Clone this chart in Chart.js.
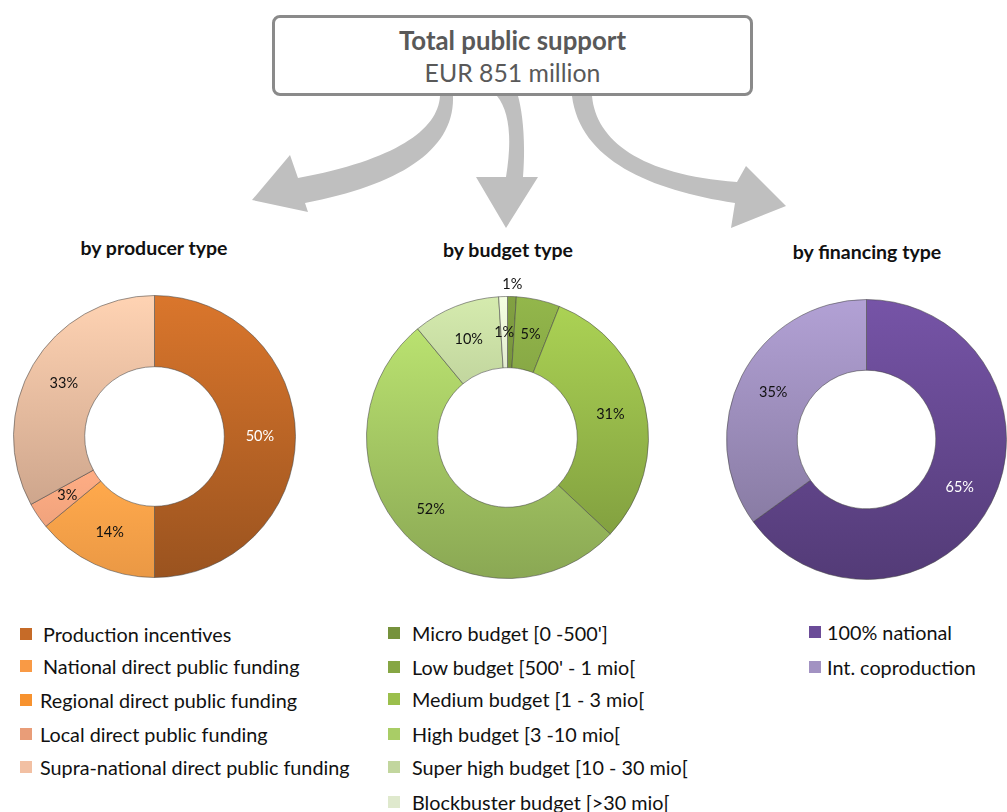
<!DOCTYPE html>
<html>
<head>
<meta charset="utf-8">
<script src="https://cdn.jsdelivr.net/npm/chart.js@4"></script>
<style>
  html, body { margin: 0; padding: 0; background: #fff; overflow: hidden; }
  body { width: 1007px; height: 812px; position: relative; font-family: Lato, "Open Sans", sans-serif; color: #111; }
  .abs { position: absolute; }
  #topbox { left: 272px; top: 15px; width: 481px; height: 81px; box-sizing: border-box;
            border: 3px solid #8a8a8a; border-radius: 8px; text-align: center; color: #595959; }
  #topbox .t1 { position: absolute; left: 0; right: 0; top: 7px; font-weight: bold; font-size: 25.8px; line-height: 30px; }
  #topbox .t2 { position: absolute; left: 0; right: 0; top: 40px; font-size: 24.8px; line-height: 30px; }
  .title { font-weight: bold; font-size: 19.5px; text-align: center; width: 300px; line-height: 24px; }
  .legend-row { position: absolute; font-size: 19.8px; line-height: 24px; white-space: nowrap; }
  .legend-row .sw { position: absolute; width: 12px; height: 12px; }
</style>
</head>
<body>
<svg class="abs" style="left:0;top:0" width="1007" height="812">
  <g fill="#bfbfbf">
    <path d="M 440 96 C 438 130, 395 160, 298 178 L 290 155 L 252 200 L 308 212 L 305 203 C 400 185, 455 150, 453 96 Z"/>
    <path d="M 497 96 C 510 112, 512 140, 506 177 L 476 177 L 506 228 L 538 177 L 523 177 C 526 138, 522 110, 518 96 Z"/>
    <path d="M 592 96 C 596 140, 640 175, 737 182 L 746 166 L 786 206 L 731 228 L 735 203 C 650 190, 580 160, 572 96 Z"/>
  </g>
</svg>
<div id="topbox" class="abs">
  <div class="t1">Total public support</div>
  <div class="t2">EUR 851 million</div>
</div>

<div class="abs title" style="left:4px;top:236px">by producer type</div>
<div class="abs title" style="left:358px;top:238px">by budget type</div>
<div class="abs title" style="left:717px;top:240px">by financing type</div>

<canvas id="c1" class="abs" width="323" height="323" style="left:-7px;top:275px"></canvas>
<canvas id="c2" class="abs" width="323" height="323" style="left:346px;top:276px"></canvas>
<canvas id="c3" class="abs" width="321" height="321" style="left:706px;top:279px"></canvas>

<div id="lg1"></div>
<div id="lg2"></div>
<div id="lg3"></div>

<script>
// Public support split by producer type (%)
const producerLabels = ['Production incentives', 'National direct public funding', 'Regional direct public funding',
                        'Local direct public funding', 'Supra-national direct public funding'];
const producerShares = [50, 14, 0, 3, 33];
const producerColors = ['#c66b28', '#f99a45', '#f7922f', '#e99d78', '#f2c0a3'];

// Public support split by budget type (%)
const budgetLabels = ["Micro budget [0 -500']", "Low budget [500' - 1 mio[", 'Medium budget [1 - 3 mio[',
                      'High budget [3 -10 mio[', 'Super high budget [10 - 30 mio[', 'Blockbuster budget [>30 mio['];
const budgetShares = [1, 5, 31, 52, 10, 1];
const budgetColors = ['#76923c', '#86a644', '#9bbf4c', '#a9cd66', '#c2d69e', '#dfe9cd'];

// Public support split by financing type (%)
const financingLabels = ['100% national', 'Int. coproduction'];
const financingShares = [65, 35];
const financingColors = ['#6b4c98', '#a292c2'];

function scaleColor(hex, f) {
  const n = parseInt(hex.slice(1), 16);
  const c = [(n >> 16) & 255, (n >> 8) & 255, n & 255].map(v => Math.max(0, Math.min(255, Math.round(v * f))));
  return 'rgb(' + c.join(',') + ')';
}

// Each slice is shaded from its own top edge downwards: light at the top,
// reaching the darkest tone one full ring diameter below it.
function shaded(colors, cutoutRatio) {
  return function (ctx) {
    const chart = ctx.chart;
    const area = chart.chartArea;
    const base = colors[ctx.dataIndex];
    if (!area) return base;
    const values = ctx.dataset.data;
    const total = values.reduce((a, b) => a + b, 0);
    const before = values.slice(0, ctx.dataIndex).reduce((a, b) => a + b, 0);
    const a0 = -Math.PI / 2 + 2 * Math.PI * before / total;
    const a1 = a0 + 2 * Math.PI * values[ctx.dataIndex] / total;
    const cy = (area.top + area.bottom) / 2;
    const R = (Math.min(area.width, area.height) - 1) / 2;
    const r = R * cutoutRatio;
    let ymin = Infinity;
    for (let k = 0; k <= 60; k++) {
      const a = a0 + (a1 - a0) * k / 60;
      ymin = Math.min(ymin, cy + Math.sin(a) * R, cy + Math.sin(a) * r);
    }
    const g = chart.ctx.createLinearGradient(0, ymin, 0, ymin + 2 * R);
    g.addColorStop(0, scaleColor(base, 1.1));
    g.addColorStop(1, scaleColor(base, 0.78));
    return g;
  };
}

const sliceLabels = {
  id: 'sliceLabels',
  afterDatasetsDraw(chart, args, opts) {
    const ctx = chart.ctx;
    const ds = chart.data.datasets[0];
    const meta = chart.getDatasetMeta(0);
    ctx.save();
    ctx.font = '14.5px Lato, "Open Sans", sans-serif';
    ctx.textAlign = 'center';
    ctx.textBaseline = 'middle';
    meta.data.forEach((arc, i) => {
      const v = ds.data[i];
      if (!v) return;
      const p = arc.getProps(['x', 'y', 'startAngle', 'endAngle', 'innerRadius', 'outerRadius'], true);
      const mid = (p.startAngle + p.endAngle) / 2;
      const outside = (opts.outside || []).includes(i);
      const r = outside ? p.outerRadius + 12 : (p.innerRadius + p.outerRadius) / 2;
      ctx.fillStyle = (opts.white || []).includes(i) ? '#ffffff' : '#111111';
      ctx.fillText(v + '%', p.x + Math.cos(mid) * r, p.y + Math.sin(mid) * r);
    });
    ctx.restore();
  }
};

const CUTOUT = 0.495;

function donut(id, labels, values, colors, labelOpts) {
  return new Chart(document.getElementById(id), {
    type: 'doughnut',
    data: {
      labels: labels,
      datasets: [{
        data: values,
        backgroundColor: shaded(colors, CUTOUT),
        borderColor: 'rgba(70,70,70,0.55)',
        borderWidth: 1
      }]
    },
    options: {
      responsive: false,
      animation: false,
      cutout: (CUTOUT * 100) + '%',
      layout: { padding: 20 },
      plugins: {
        legend: { display: false },
        tooltip: { enabled: false },
        sliceLabels: labelOpts
      }
    },
    plugins: [sliceLabels]
  });
}

donut('c1', producerLabels, producerShares, producerColors, { white: [0] });
donut('c2', budgetLabels, budgetShares, budgetColors, { outside: [0] });
donut('c3', financingLabels, financingShares, financingColors, { white: [0] });

function legend(id, labels, colors, swatchX, textX, rowsY) {
  const host = document.getElementById(id);
  labels.forEach((lab, i) => {
    const row = document.createElement('div');
    row.className = 'legend-row';
    row.style.left = swatchX + 'px';
    row.style.top = (rowsY[i] - 12) + 'px';
    const sw = document.createElement('span');
    sw.className = 'sw';
    sw.style.background = colors[i];
    sw.style.left = '0px';
    sw.style.top = '6px';
    const tx = document.createElement('span');
    tx.style.position = 'absolute';
    tx.style.left = (textX[i] - swatchX) + 'px';
    tx.style.top = '0px';
    tx.textContent = lab;
    row.appendChild(sw);
    row.appendChild(tx);
    host.appendChild(row);
  });
}

legend('lg1', producerLabels, producerColors, 20, [43, 43, 40, 40, 40], [634, 666, 700, 734, 767]);
legend('lg2', budgetLabels, budgetColors, 388, [412, 412, 412, 412, 412, 412], [633, 667, 699, 734, 767, 802]);
legend('lg3', financingLabels, financingColors, 809, [827, 827], [632, 667]);
</script>
</body>
</html>
